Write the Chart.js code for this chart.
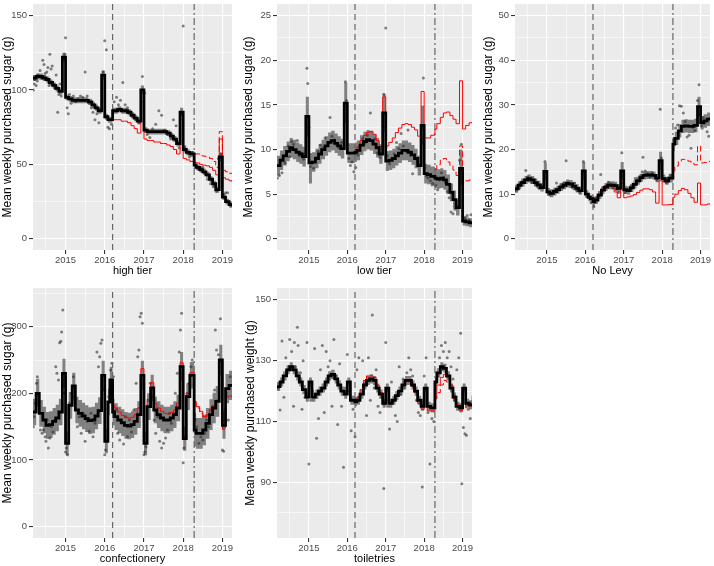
<!DOCTYPE html>
<html>
<head>
<meta charset="utf-8">
<script src="https://cdn.jsdelivr.net/npm/chart.js@4/dist/chart.umd.min.js"></script>
<style>
  body { margin: 0; background: #fff; width: 714px; height: 566px; position: relative; overflow: hidden; }
  canvas { position: absolute; }
</style>
</head>
<body>
<canvas id="c1" width="238" height="278" style="left:0;top:0"></canvas>
<canvas id="c2" width="238" height="278" style="left:238px;top:0"></canvas>
<canvas id="c3" width="238" height="278" style="left:476px;top:0"></canvas>
<canvas id="c4" width="238" height="286" style="left:0;top:280px"></canvas>
<canvas id="c5" width="238" height="286" style="left:238px;top:280px"></canvas>
<script>
// step dates (decimal years); each value holds until the next date
const dates = [2014.17, 2014.25, 2014.33, 2014.42, 2014.5, 2014.58, 2014.67, 2014.75, 2014.83, 2014.92,
  2015.0, 2015.08, 2015.17, 2015.25, 2015.33, 2015.42, 2015.5, 2015.58, 2015.67, 2015.75, 2015.83, 2015.92,
  2016.0, 2016.08, 2016.13, 2016.2, 2016.25, 2016.33, 2016.42, 2016.5, 2016.58, 2016.67, 2016.75, 2016.83, 2016.92,
  2017.0, 2017.08, 2017.17, 2017.25, 2017.33, 2017.42, 2017.5, 2017.58, 2017.67, 2017.75, 2017.83, 2017.92,
  2018.0, 2018.08, 2018.17, 2018.28, 2018.33, 2018.42, 2018.5, 2018.58, 2018.67, 2018.75, 2018.83, 2018.92,
  2019.0, 2019.08, 2019.17, 2019.25];
const levyAnnounced = 2016.2;
const levyStart = 2018.28;

const xMajor = [2015, 2016, 2017, 2018, 2019];
const xMinor = [2014.5, 2015.5, 2016.5, 2017.5, 2018.5];

// high tier
const highFit = [108,109,109,108,107,105,103,101,99,122, 95,94,93,93,93,93,93,92,90,88,86,110,
  82,80,80,86,86,87,86,86,85,83,81,79,100, 73,72,72,72,72,72,72,71,69,67,64,85,
  60,58,57,49.5,48,46.5,45,43,40,37,33,55, 28,25,23,22];
const highLow = [106,107,107,106,105,103,101,99,97,119, 93,92,91,91,91,91,91,90,88,86,84,107,
  80,78,78,84,84,85,84,84,83,81,79,77,97, 71,70,70,70,70,70,70,69,67,65,62,82,
  58,56,55,47.5,46,44.5,43,41,38,35,31,52, 26,23,21,20];
const highHigh = [110,111,111,110,109,107,105,103,101,125, 97,96,95,95,95,95,95,94,92,90,88,113,
  84,82,82,88,88,89,88,88,87,85,83,81,103, 75,74,74,74,74,74,74,73,71,69,66,88,
  62,60,59,51.5,50,48.5,47,45,42,39,35,58, 30,27,25,24];
const highCf = [80,80,80,79,79,78,76,74,71,92, 67,66,66,65,65,64,64,63,62,60,57,80,
  54,53,52,51.5,51,50,49.5,49,48,46,43,67,41,40,39,38];
const highCf2 = [57,57,56,55.5,55,54,52,48,72,46,45,44,44];
const highPtX = [2014.18,2014.2,2014.22,2014.25,2014.28,2014.3,2014.35,2014.38,2014.42,2014.45,
  2014.48,2014.52,2014.55,2014.58,2014.6,2014.63,2014.66,2014.7,2014.73,2014.76,
  2014.8,2014.83,2014.86,2014.89,2014.95,2014.98,2015.0,2015.04,2015.07,2015.1,
  2015.14,2015.2,2015.26,2015.32,2015.38,2015.44,2015.5,2015.55,2015.6,2015.66,
  2015.7,2015.75,2015.8,2015.85,2015.96,2016.0,2016.04,2016.08,2016.12,2016.17,
  2016.24,2016.3,2016.35,2016.4,2016.46,2016.52,2016.58,2016.65,2016.72,2016.8,
  2016.88,2016.96,2017.02,2017.08,2017.15,2017.22,2017.3,2017.38,2017.45,2017.52,
  2017.6,2017.68,2017.75,2017.82,2017.9,2017.96,2018.0,2018.04,2018.1,2018.16,
  2018.24,2018.32,2018.38,2018.44,2018.5,2018.56,2018.62,2018.7,2018.77,2018.84,
  2018.9,2018.96,2019.03,2019.08,2019.13,2019.18,2019.22];
const highPtY = [100,104,107,103,106,110,113,108,120,117, 111,112,115,103,124,114,116,104,101,110,
  85,97,104,96,121,124,135,88,84,97, 91,96,92,94,96,95,112,96,91,88,
  85,80,84,78,112,133,127,75,74,77, 92,95,90,93,105,90,88,85,82,80,
  78,109,98,70,68,74,77,86,83,73, 70,67,80,76,61,84,143,62,58,55,
  58,49,47,46,48,44,40,37,35,32, 54,57,30,31,31,24,22];

// low tier
const lowFit = [8.2,8.8,9.3,9.8,10.2,10.0,9.7,9.5,9.2,13.7, 8.5,8.6,9.0,9.5,10.0,10.4,10.8,11.0,10.7,10.4,10.1,15.2,
  9.6,9.6,9.6,9.7,9.9,10.5,10.9,11.1,11.0,10.6,10.2,9.5,14.1, 8.7,8.8,9.0,9.3,9.6,9.9,9.9,9.7,9.4,9.0,8.2,12.7,
  7.3,7.2,7.0,6.8,6.7,6.8,6.6,6.1,5.2,4.4,3.5,7.9, 2.0,1.9,1.8,1.7];
const lowLow = [7.1,7.7,8.2,8.7,9.1,8.9,8.6,8.4,8.1,11.4, 6.2,7.5,7.9,8.4,8.9,9.3,9.7,9.9,9.6,9.3,9.0,13,
  8.5,8.5,8.5,8.6,8.8,9.4,9.8,10,9.9,9.5,9.1,8.4,12, 7.6,7.7,7.9,8.2,8.5,8.8,8.8,8.6,8.3,7.9,7.1,10.5,
  6.2,6.1,5.9,5.7,5.6,5.7,5.5,5.0,4.2,3.4,2.6,6, 1.5,1.4,1.3,1.2];
const lowHigh = [9.3,9.9,10.4,10.9,11.3,11.1,10.8,10.6,10.3,15.9, 9.6,9.7,10.1,10.6,11.1,11.5,11.9,12.1,11.8,11.5,11.2,17.5,
  10.7,10.7,10.7,10.8,11,11.6,12,12.2,12.1,11.7,11.3,10.6,16.2, 9.8,9.9,10.1,10.4,10.7,11,11,10.8,10.5,10.1,9.3,14.9,
  8.4,8.3,8.1,7.9,7.8,7.9,7.7,7.2,6.2,5.4,4.4,10, 2.5,2.4,2.3,2.2];
const lowCf = [9.8,10.3,11.0,11.6,11.9,12.0,11.7,11.0,10.3,15.9, 10.4,10.8,11.3,11.9,12.4,12.8,12.9,12.8,12.5,12.2,11.5,16.5,
  11.3,11.3,11.6,12.3,12.9,13.6,14.1,14.2,13.8,13.4,12.9,17.7,12.3,12.7,13.0,13.1];
const lowCf2 = [7.8,8.3,8.8,9.0,8.6,8.2,7.7,7.1,10.4,6.3,6.5,6.6,6.5];
const lowPtX = [2014.18,2014.2,2014.23,2014.26,2014.3,2014.34,2014.38,2014.42,2014.46,2014.5,
  2014.55,2014.6,2014.65,2014.7,2014.75,2014.8,2014.86,2014.9,2014.95,2014.97,
  2015.0,2015.04,2015.08,2015.12,2015.18,2015.24,2015.3,2015.36,2015.42,2015.48,
  2015.55,2015.6,2015.66,2015.72,2015.78,2015.85,2015.95,2015.98,2016.04,2016.08,
  2016.12,2016.17,2016.22,2016.28,2016.34,2016.4,2016.46,2016.52,2016.6,2016.66,
  2016.72,2016.78,2016.85,2016.95,2017.0,2017.04,2017.1,2017.16,2017.22,2017.28,
  2017.34,2017.4,2017.46,2017.52,2017.58,2017.64,2017.7,2017.76,2017.82,2017.88,
  2017.98,2018.02,2018.06,2018.1,2018.16,2018.22,2018.3,2018.35,2018.4,2018.45,
  2018.5,2018.55,2018.6,2018.65,2018.7,2018.75,2018.8,2018.86,2018.92,2018.97,
  2019.03,2019.07,2019.12,2019.17,2019.22];
const lowPtY = [6.8,8.2,7.1,8.8,7.4,9.3,8.5,9.6,10.4,9.2, 10.9,10.6,9.8,11,9.3,9.6,8.9,9.5,19.1,17.4,
  12.5,8.1,8.6,7.9,9.1,9.8,10.5,10.2,11.3,10.8, 13.6,11.5,11.1,10.5,10.2,10.8,17.6,15.5,9,8.2,
  8.6,7.5,8,9.4,10.4,11.2,10.7,11.6,14.1,10.8, 11.2,9.6,9.1,16.2,23.6,9.3,8.4,8.9,9.5,10.8,
  10.1,11.8,10.4,9.8,12.2,9.4,7.3,9.2,8.6,8.3, 18,8,7,6.8,6.5,6.2,6,5.5,6.6,7.4,
  6.9,6.3,5.3,4.6,3,2.8,3.3,3.6,8.8,10.6, 2.2,2.4,2.6,2.1,2.7];

// No Levy
const noLevyFit = [11.2,12.0,12.6,13.2,13.5,13.2,12.6,12.1,11.5,15.1, 10.5,10.2,10.6,11.0,11.6,12.0,12.4,12.3,11.8,11.3,10.8,15.2,
  10.0,9.3,9.0,8.3,8.7,9.8,10.9,11.6,12.0,12.0,11.9,11.3,15.2, 11.0,10.8,11.4,12.2,13.0,13.7,14.2,14.3,14.3,14.2,13.6,17.5,
  13.5,13.0,13.6,21.2,22.5,24.2,25.2,25.3,25.2,25.2,25.4,29.6, 26.0,26.4,26.8,27.2];
const noLevyLow = [10.3,11.1,11.7,12.3,12.6,12.3,11.7,11.2,10.6,13.1, 9.6,9.3,9.7,10.1,10.7,11.1,11.5,11.4,10.9,10.4,9.9,13.2,
  9.1,8.4,8.1,7.2,7.8,8.9,10,10.7,11.1,11.1,11,10.4,13.2, 10.1,9.9,10.5,11.3,12.1,12.8,13.3,13.4,13.4,13.3,12.7,15.5,
  12.6,12.1,12.6,19.6,21,22.7,23.7,23.8,23.7,23.7,23.9,27.4, 24.5,24.9,25.3,25.7];
const noLevyHigh = [12.1,12.9,13.5,14.1,14.4,14.1,13.5,13,12.4,17.1, 11.4,11.1,11.5,11.9,12.5,12.9,13.3,13.2,12.7,12.2,11.7,17.2,
  10.9,10.2,9.9,9.4,9.6,10.7,11.8,12.5,12.9,12.9,12.8,12.2,17.2, 11.9,11.7,12.3,13.1,13.9,14.6,15.1,15.2,15.2,15.1,14.5,19.5,
  14.4,13.9,14.6,22.8,24,25.7,26.7,26.8,26.7,26.7,26.9,31.8, 27.5,27.9,28.3,28.7];
const noLevyCf = [8.6,9.2,10.2,11.2,11.8,12.0,11.7,10.5,9.2,12.5, 9.2,9.4,9.6,9.9,10.4,10.9,11.2,11.2,11.0,10.5,8.0,13.0,
  7.6,7.6,7.7,9.3,10.0,10.8,11.3,11.0,10.2,9.2,8.2,12.5,7.6,7.6,7.8,7.9];
const noLevyCf2 = [15.2,16.3,17.3,17.8,17.8,17.4,16.9,16.6,20.8,17.0,17.1,17.3,17.5];
const noLevyPtX = [2014.18,2014.22,2014.26,2014.3,2014.35,2014.4,2014.45,2014.5,2014.55,2014.6,
  2014.65,2014.7,2014.75,2014.8,2014.86,2014.95,2014.98,2015.03,2015.08,2015.14,
  2015.2,2015.25,2015.3,2015.36,2015.42,2015.5,2015.55,2015.6,2015.66,2015.72,
  2015.78,2015.85,2015.95,2015.98,2016.04,2016.1,2016.15,2016.22,2016.28,2016.34,
  2016.4,2016.46,2016.52,2016.6,2016.66,2016.72,2016.8,2016.86,2016.95,2016.98,
  2017.04,2017.1,2017.18,2017.24,2017.3,2017.36,2017.42,2017.48,2017.5,2017.56,
  2017.62,2017.68,2017.74,2017.8,2017.86,2017.95,2017.98,2018.04,2018.1,2018.15,
  2018.22,2018.3,2018.35,2018.4,2018.45,2018.5,2018.55,2018.6,2018.65,2018.7,
  2018.75,2018.8,2018.85,2018.92,2018.96,2019.02,2019.07,2019.12,2019.17,2019.21];
const noLevyPtY = [10.8,11.5,11.2,12.3,12.8,12.9,15.3,13.9,13.4,12.6, 12.9,12.1,11.7,11.3,11.6,17.3,14.7,10.3,9.8,10.1,
  10.8,12.5,11.2,11.9,12.4,17.5,12.6,12.1,11.5,12.5, 10.9,10.4,17.3,14.5,9.5,9.4,8.1,7.2,8.8,9.5,
  14.4,11.5,11.8,12.7,12.3,11.4,11,10.4,19.3,14.2, 10.3,10.9,11.8,12.3,13.5,13.2,14.1,15,18.3,15.2,
  14.6,13.9,14.8,14.1,13.2,29,18.1,13,12.6,12.8, 14.2,22,24.8,25.5,29.8,29.7,28.2,26.3,22.8,23.2,
  20.3,25,24.2,31,34.5,25.3,27.2,26,24,23];

// confectionery
const confFit = [172,200,170,160,152,153,158,163,172,230, 125,182,211,175,170,166,162,159,160,166,174,227,
  128,187,220,172,165,160,156,152,151,153,158,168,227, 125,180,208,175,168,163,160,160,163,168,178,240,
  132,195,227,145,140,140,145,155,168,178,188,250, 152,207,212,214];
const confLow = [152,180,150,140,132,133,138,143,152,208, 107,162,191,155,150,146,142,139,140,146,154,205,
  110,167,200,152,145,140,136,132,131,133,138,148,205, 107,160,188,155,148,143,140,140,143,148,158,218,
  114,175,207,120,117,117,122,132,145,155,165,227, 132,185,190,192];
const confHigh = [192,222,190,180,172,173,178,183,192,252, 143,202,231,195,190,186,182,179,180,186,194,249,
  146,207,240,192,185,180,176,172,171,173,178,188,249, 143,200,228,195,188,183,180,180,183,188,198,262,
  150,215,247,170,163,163,168,178,191,201,211,273, 172,229,234,236];
const confCf = [182,178,172,167,164,163,164,168,178,237, 128,188,216,185,178,173,170,169,171,175,185,246,
  135,200,231,188,180,173,165,168,176,182,190,248,148,196,196,195];
const confCf2 = [186,178,170,163,166,174,180,188,246,146,194,194,193];
const confPtX = [2014.18,2014.2,2014.23,2014.26,2014.28,2014.32,2014.36,2014.4,2014.44,2014.48,
  2014.5,2014.53,2014.56,2014.6,2014.64,2014.68,2014.72,2014.75,2014.78,2014.82,
  2014.85,2014.88,2014.9,2014.93,2014.97,2015.0,2015.02,2015.05,2015.1,2015.15,
  2015.2,2015.24,2015.3,2015.35,2015.4,2015.45,2015.5,2015.55,2015.6,2015.65,
  2015.7,2015.75,2015.8,2015.84,2015.87,2015.9,2015.93,2015.97,2016.0,2016.02,
  2016.05,2016.1,2016.15,2016.18,2016.22,2016.28,2016.33,2016.38,2016.43,2016.48,
  2016.53,2016.58,2016.63,2016.68,2016.74,2016.8,2016.84,2016.87,2016.9,2016.93,
  2016.96,2017.0,2017.02,2017.05,2017.1,2017.16,2017.2,2017.26,2017.3,2017.35,
  2017.4,2017.45,2017.5,2017.55,2017.6,2017.65,2017.7,2017.75,2017.8,2017.85,
  2017.9,2017.93,2017.96,2018.0,2018.02,2018.05,2018.1,2018.15,2018.2,2018.23,
  2018.3,2018.35,2018.4,2018.45,2018.5,2018.55,2018.6,2018.65,2018.7,2018.75,
  2018.8,2018.82,2018.85,2018.9,2018.95,2019.0,2019.03,2019.07,2019.1,2019.15,
  2019.2];
const confPtY = [150,165,185,215,225,190,145,140,145,135, 128,160,118,133,150,142,160,240,230,220,
  276,278,292,325,200,112,118,108,185,200, 225,190,150,165,140,170,128,158,143,170,
  135,155,262,240,255,275,280,205,108,115, 130,195,235,245,225,175,140,130,155,124,
  165,135,160,142,175,215,255,265,315,320, 305,108,112,120,190,215,195,160,140,165,
  128,118,125,133,145,170,155,170,200,230, 262,295,320,96,118,135,200,215,240,250,
  160,150,125,135,130,140,160,150,175,180, 205,295,265,258,312,115,113,175,200,160,
  225];

// toiletries
const toilFit = [121.5,123,125,127,128,127,125,123,120.5,118, 123,118,119,120,121,123,125,125.5,124,122,120,119,
  123,117,117,116.5,117,119,122,123.5,124,123.5,121,119,116, 121,116,117,118.5,120,122,123.5,123.5,122,120,
  117,115,121,115,114.5,123,126,128,127.5,125,121,118,115,114.5,121,116,115.5,115.5];
const toilLow = [120,121.5,123.5,125.5,126.5,125.5,123.5,121.5,119,116.5, 121.5,116.5,117.5,118.5,119.5,121.5,123.5,124,122.5,120.5,118.5,117.5,
  121.5,115.5,115.5,115,115.5,117.5,120.5,122,122.5,122,119.5,117.5,114.5, 119.5,114.5,115.5,117,118.5,120.5,122,122,120.5,118.5,
  115.5,113.5,119.5,113.5,113,121.5,124.5,126.5,126,123.5,119.5,116.5,113.5,113,119.5,114.5,114,114];
const toilHigh = [123,124.5,126.5,128.5,129.5,128.5,126.5,124.5,122,119.5, 124.5,119.5,120.5,121.5,122.5,124.5,126.5,127,125.5,123.5,121.5,120.5,
  124.5,118.5,118.5,118,118.5,120.5,123.5,125,125.5,125,122.5,120.5,117.5, 122.5,117.5,118.5,120,121.5,123.5,125,125,123.5,121.5,
  118.5,116.5,122.5,116.5,116,124.5,127.5,129.5,129,126.5,122.5,119.5,116.5,116,122.5,117.5,117,117];
const toilCf = [117,118,120.5,123.5,125,125,124.5,122,119.5,115.5, 121,116,117,118.5,120,122,123.5,123,121.5,119.5,116,114,
  120.5,113.5,113.5,119,122,124.5,125.5,124.5,122,118.5,115.5,114,120.5,115.5,116,118.5];
const toilCf2 = [117.5,119.5,122,123.5,123,121,117.5,115,113.5,119.5,114.5,115,115];
const toilPtX = [2014.2,2014.25,2014.3,2014.35,2014.4,2014.45,2014.5,2014.55,2014.6,2014.62,
  2014.65,2014.7,2014.72,2014.78,2014.82,2014.85,2014.9,2014.95,2015.0,2015.05,
  2015.1,2015.15,2015.2,2015.25,2015.3,2015.35,2015.4,2015.45,2015.5,2015.55,
  2015.6,2015.65,2015.7,2015.75,2015.8,2015.85,2015.9,2015.95,2016.0,2016.05,
  2016.1,2016.15,2016.2,2016.25,2016.3,2016.35,2016.4,2016.45,2016.5,2016.55,
  2016.6,2016.65,2016.7,2016.75,2016.8,2016.85,2016.9,2016.95,2017.0,2017.05,
  2017.1,2017.15,2017.2,2017.25,2017.3,2017.35,2017.4,2017.45,2017.5,2017.55,
  2017.6,2017.65,2017.7,2017.75,2017.8,2017.85,2017.9,2017.95,2018.0,2018.05,
  2018.1,2018.15,2018.2,2018.25,2018.3,2018.35,2018.4,2018.45,2018.5,2018.55,
  2018.6,2018.65,2018.7,2018.75,2018.8,2018.85,2018.9,2018.95,2018.98,2019.02,
  2019.06,2019.1,2019.15,2019.2];
const toilPtY = [121,113.8,136.5,118,131,127,137,133,115,136, 128,141,135,126,114,130,118,136,96,117,
  120,134,104.5,111,127,135,113,133,128,130, 115,137,125,109,129,115,95,121,132,120,
  107,114,105,127,131,119,130,122,112,131, 117,145,121,127,115,113,118,88,136,115,
  107.5,123,117,112,110,128,119,124,121,126, 131,127,125,120,117,113,112,88.5,125,131,
  113,96,111,110,118,125,131,135,133,136, 131,133,128,124,117,127,131,139,89.5,108,
  106,105.5,114,111];

const sugarTitle = 'Mean weekly purchased sugar (g)';

const panels = [
  { id: 'c1', title: 'high tier', yTitle: sugarTitle, yMin: -7.5, yMax: 157.7,
    yMajor: [0, 50, 100, 150], yMinor: [25, 75, 125],
    fit: highFit, low: highLow, high: highHigh, cf: highCf, cf2: highCf2, px: highPtX, py: highPtY,
    yWidth: 33, padR: 6, padT: 0, titlePad: 0 },
  { id: 'c2', title: 'low tier', yTitle: sugarTitle, yMin: -1.25, yMax: 26.3,
    yMajor: [0, 5, 10, 15, 20, 25], yMinor: [2.5, 7.5, 12.5, 17.5, 22.5],
    fit: lowFit, low: lowLow, high: lowHigh, cf: lowCf, cf2: lowCf2, px: lowPtX, py: lowPtY,
    yWidth: 39, padR: 2, padT: 0, titlePad: 3 },
  { id: 'c3', title: 'No Levy', yTitle: sugarTitle, yMin: -2.5, yMax: 52.6,
    yMajor: [0, 10, 20, 30, 40, 50], yMinor: [5, 15, 25, 35, 45],
    fit: noLevyFit, low: noLevyLow, high: noLevyHigh, cf: noLevyCf, cf2: noLevyCf2, px: noLevyPtX, py: noLevyPtY,
    yWidth: 39, padR: 1, padT: 0, titlePad: 5 },
  { id: 'c4', title: 'confectionery', yTitle: sugarTitle, yMin: -17, yMax: 358,
    yMajor: [0, 100, 200, 300], yMinor: [50, 150, 250, 350],
    fit: confFit, low: confLow, high: confHigh, cf: confCf, cf2: confCf2, px: confPtX, py: confPtY,
    yWidth: 33, padR: 6, padT: 8, titlePad: 0 },
  { id: 'c5', title: 'toiletries', yTitle: 'Mean weekly purchased weight (g)', yMin: 71.7, yMax: 153.9,
    yMajor: [90, 110, 130, 150], yMinor: [80, 100, 120, 140],
    fit: toilFit, low: toilLow, high: toilHigh, cf: toilCf, cf2: toilCf2, px: toilPtX, py: toilPtY,
    yWidth: 39, padR: 2, padT: 8, titlePad: 5 }
];

Chart.defaults.font.family = '"Liberation Sans", Arial, Helvetica, sans-serif';

const panelBg = {
  id: 'panelBg',
  beforeDraw(chart) {
    const { ctx, chartArea: a } = chart;
    ctx.save();
    ctx.fillStyle = '#EBEBEB';
    ctx.fillRect(a.left, a.top, a.right - a.left, a.bottom - a.top);
    ctx.restore();
  }
};

function pts(xs, ys) {
  return ys.map((y, i) => ({ x: xs[i], y: y }));
}

function makePanel(p) {
  const cfDates = dates.slice(dates.indexOf(levyAnnounced));
  const cf2Dates = dates.slice(dates.indexOf(levyStart));
  const xTicks = xMajor.concat(xMinor).sort((a, b) => a - b);
  const yTicks = p.yMajor.concat(p.yMinor).filter(v => v >= p.yMin && v <= p.yMax).sort((a, b) => a - b);
  const vline = x => [{ x: x, y: p.yMin }, { x: x, y: p.yMax }];
  const step = { stepped: true, pointRadius: 0, fill: false };

  new Chart(document.getElementById(p.id), {
    type: 'line',
    data: {
      datasets: [
        Object.assign({ data: pts(dates, p.fit), borderColor: '#000', borderWidth: 2.8, order: 0 }, step),
        Object.assign({ data: pts(cfDates, p.cf), borderColor: '#FF0000', borderWidth: 1, order: 1 }, step),
        Object.assign({ data: pts(cf2Dates, p.cf2), borderColor: '#FF0000', borderWidth: 1, borderDash: [6, 3], order: 2 }, step),
        { data: vline(levyAnnounced), borderColor: '#666', borderWidth: 1.2, borderDash: [6, 4], pointRadius: 0, order: 3 },
        { data: vline(levyStart), borderColor: '#666', borderWidth: 1.2, borderDash: [7, 3, 2, 3], pointRadius: 0, order: 3 },
        { data: pts(dates, p.high), borderColor: 'rgba(0,0,0,0)', backgroundColor: 'rgba(40,40,40,0.55)',
          fill: '+1', stepped: true, pointRadius: 0, order: 4 },
        { data: pts(dates, p.low), borderColor: 'rgba(0,0,0,0)', fill: false, stepped: true, pointRadius: 0, order: 5 },
        { data: pts(p.px, p.py), showLine: false, pointRadius: 1.5, pointBorderWidth: 0,
          pointBackgroundColor: 'rgba(30,30,30,0.55)', order: 6 }
      ]
    },
    options: {
      responsive: false,
      animation: false,
      layout: { padding: { left: 0, right: p.padR, top: p.padT, bottom: 0 } },
      plugins: { legend: { display: false }, tooltip: { enabled: false } },
      scales: {
        x: {
          type: 'linear', min: 2014.17, max: 2019.245,
          afterBuildTicks: s => { s.ticks = xTicks.map(v => ({ value: v })); },
          afterFit: s => { s.height = 28; s.paddingLeft = 0; s.paddingRight = 0; },
          border: { display: false },
          grid: {
            color: '#fff',
            lineWidth: c => xMajor.includes(c.tick.value) ? 1.1 : 0.55,
            tickLength: 4,
            tickColor: c => xMajor.includes(c.tick.value) ? '#333' : 'rgba(0,0,0,0)'
          },
          ticks: { autoSkip: false, maxRotation: 0, padding: 1, color: '#4D4D4D', font: { size: 9.5 },
            callback: v => xMajor.includes(v) ? String(v) : '' },
          title: { display: true, text: p.title, color: '#000', font: { size: 11 }, padding: { top: 0, bottom: 0 } }
        },
        y: {
          type: 'linear', min: p.yMin, max: p.yMax,
          afterBuildTicks: s => { s.ticks = yTicks.map(v => ({ value: v })); },
          afterFit: s => { s.width = p.yWidth; s.paddingTop = 0; s.paddingBottom = 0; },
          border: { display: false },
          grid: {
            color: '#fff',
            lineWidth: c => p.yMajor.includes(c.tick.value) ? 1.1 : 0.55,
            tickLength: 4,
            tickColor: c => p.yMajor.includes(c.tick.value) ? '#333' : 'rgba(0,0,0,0)'
          },
          ticks: { autoSkip: false, padding: 2, color: '#4D4D4D', font: { size: 9.5 },
            callback: v => p.yMajor.includes(v) ? String(v) : '' },
          title: { display: true, text: p.yTitle, color: '#000', font: { size: 12 }, padding: { top: p.titlePad, bottom: 0 } }
        }
      }
    },
    plugins: [panelBg]
  });
}

panels.forEach(makePanel);
</script>
</body>
</html>
